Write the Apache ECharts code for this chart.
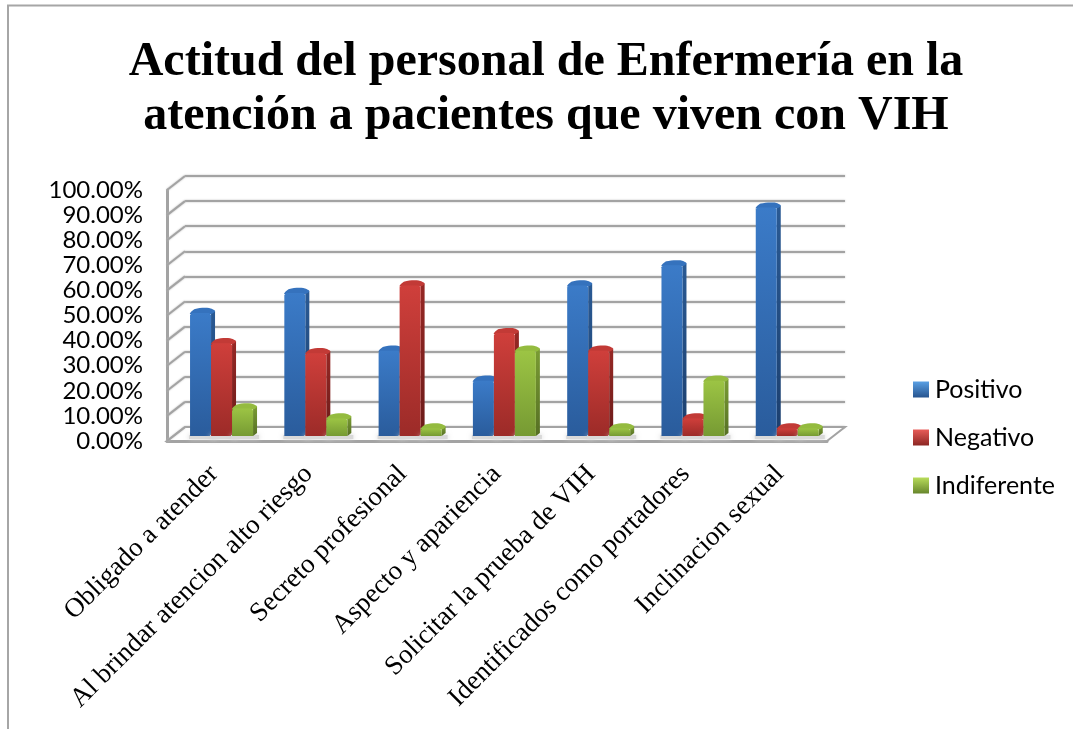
<!DOCTYPE html>
<html><head><meta charset="utf-8">
<style>html,body{margin:0;padding:0;background:#fff}#c{width:1073px;height:729px}</style>
<script src="https://cdn.jsdelivr.net/npm/echarts@6/dist/echarts.min.js"></script>
</head><body><div id="c"></div>
<script>
const categories = ['Obligado a atender','Al brindar atencion alto riesgo','Secreto profesional','Aspecto y apariencia','Solicitar la prueba de VIH','Identificados como portadores','Inclinacion sexual'];
const positivo = [49,57,34,22,60,68,91];
const negativo = [37,33,60,41,34,7,3];
const indiferente = [11,7,3,34,3,22,3];
const ticks = [0,10,20,30,40,50,60,70,80,90,100];
const titleText = 'Actitud del personal de Enfermería en la\natención a pacientes que viven con VIH';

const grad = (a,b,x2,y2)=>new echarts.graphic.LinearGradient(0,0,x2,y2,[{offset:0,color:a},{offset:1,color:b}]);
const palette = {
  Positivo:{front:['#3b7bc8','#2a5c9c'],side:['#2a5a94','#1c3f6e'],top:'#3572bd',legend:['#5aa0e4','#27548f']},
  Negativo:{front:['#cf3f3b','#9c2b28'],side:['#962825','#6b1b19'],top:'#c23a36',legend:['#e85c58','#8c2623']},
  Indiferente:{front:['#9cc444','#769a33'],side:['#7a9c34','#566f24'],top:'#94bb3f',legend:['#b8dc5a','#67862c']}
};
const BW=21, D=4;
function barSeries(name,values,k){
  const p=palette[name];
  return {
    name,type:'custom',xAxisIndex:1,yAxisIndex:1,clip:false,z:5+k,
    itemStyle:{color:grad(p.legend[0],p.legend[1],0,1)},
    encode:{x:0,y:1},
    data:values.map((v,i)=>[i,v]),
    renderItem(params,api){
      const c=api.coord([api.value(0),api.value(1)]);
      const b=api.coord([api.value(0),0]);
      const x=c[0]-BW*1.5+k*BW, y=c[1], yb=b[1], h=yb-y;
      const chamfer=Math.min(2,h/2);
      return {type:'group',children:[
        {type:'rect',shape:{x:x-1,y:yb-1,width:BW+D+3,height:4},style:{fill:'#d9d9d9',shadowBlur:5,shadowColor:'#cfcfcf'},z2:0},
        {type:'polygon',shape:{points:[[x+BW,y],[x+BW+D,y-D+2],[x+BW+D,yb-3],[x+BW,yb]]},style:{fill:grad(p.side[0],p.side[1],0,1)},z2:1},
        {type:'polygon',shape:{smooth:0.3,points:[[x,y+1],[x+5,y-D],[x+BW-2,y-D-1],[x+BW+D,y-D+2],[x+BW,y+1]]},style:{fill:p.top},z2:2},
        {type:'polygon',shape:{points:[[x,y+chamfer],[x+chamfer,y],[x+BW-chamfer,y],[x+BW,y+chamfer],[x+BW,yb],[x,yb]]},style:{fill:grad(p.front[0],p.front[1],0,1)},z2:3}
      ]};
    }
  };
}
const wallSeries = {
  name:'wall',type:'custom',xAxisIndex:0,yAxisIndex:0,clip:false,silent:true,z:2,
  data:ticks.map(t=>[0,t]),encode:{y:1},
  renderItem(params,api){
    const v=api.value(1), y=api.coord([0,v])[1], cs=params.coordSys;
    const lx=cs.x, rx=cs.x+cs.width, dx=18, dy=14;
    const line={stroke:'#a3a3a3',lineWidth:2,shadowBlur:2,shadowColor:'#bbb'};
    const kids=[{type:'line',shape:{x1:lx,y1:y,x2:lx-dx,y2:y+dy},style:line}];
    if(v===0){
      kids.unshift({type:'polygon',shape:{points:[[lx,y],[rx,y],[rx-dx,y+dy],[lx-dx,y+dy]]},style:{fill:'#fff',stroke:'#a3a3a3',lineWidth:2}});
    }
    return {type:'group',children:kids};
  }
};
const chart=echarts.init(document.getElementById('c'),null,{renderer:'canvas'});
chart.setOption({
  animation:false,backgroundColor:'#fff',
  graphic:[{type:'rect',z:-1,shape:{x:8,y:5.5,width:1200,height:900},style:{fill:'none',stroke:'#a6a6a6',lineWidth:2}}],
  title:{text:titleText,left:541,top:31,textAlign:'center',
    textStyle:{fontFamily:'Liberation Serif',fontWeight:'bold',fontSize:48,lineHeight:54,color:'#000'}},
  legend:{data:['Positivo','Negativo','Indiferente'],orient:'vertical',left:908,top:372,itemWidth:16,itemHeight:16,itemGap:23,
    icon:'rect',textStyle:{fontFamily:'Lato',fontSize:25,color:'#000',padding:[0,0,0,1]}},
  grid:[
    {left:185,top:176,width:660,height:251},
    {left:174.4,top:185,width:660,height:251},
    {left:167,top:190,width:660,height:251}
  ],
  xAxis:[
    {gridIndex:0,type:'category',data:categories,show:false},
    {gridIndex:1,type:'category',data:categories,show:false},
    {gridIndex:2,type:'category',data:categories,
      axisLine:{show:true,lineStyle:{color:'#a3a3a3',width:3}},axisTick:{show:false},
      axisLabel:{interval:0,rotate:45,margin:29,fontFamily:'Liberation Serif',fontSize:27,color:'#000'}}
  ],
  yAxis:[
    {gridIndex:0,type:'value',min:0,max:100,interval:10,axisLabel:{show:false},axisLine:{show:false},axisTick:{show:false},
      splitLine:{show:true,lineStyle:{color:'#a3a3a3',width:2,shadowBlur:2,shadowColor:'#bbb'}}},
    {gridIndex:1,type:'value',min:0,max:100,interval:10,show:false,splitLine:{show:false}},
    {gridIndex:2,type:'value',min:0,max:100,interval:10,splitLine:{show:false},axisTick:{show:false},
      axisLine:{show:true,lineStyle:{color:'#a3a3a3',width:3}},
      axisLabel:{margin:24,fontFamily:'Lato',fontSize:24,color:'#000',padding:[4,0,0,0],formatter:v=>v.toFixed(2)+'%'}}
  ],
  series:[wallSeries,barSeries('Positivo',positivo,0),barSeries('Negativo',negativo,1),barSeries('Indiferente',indiferente,2)]
});
</script></body></html>
